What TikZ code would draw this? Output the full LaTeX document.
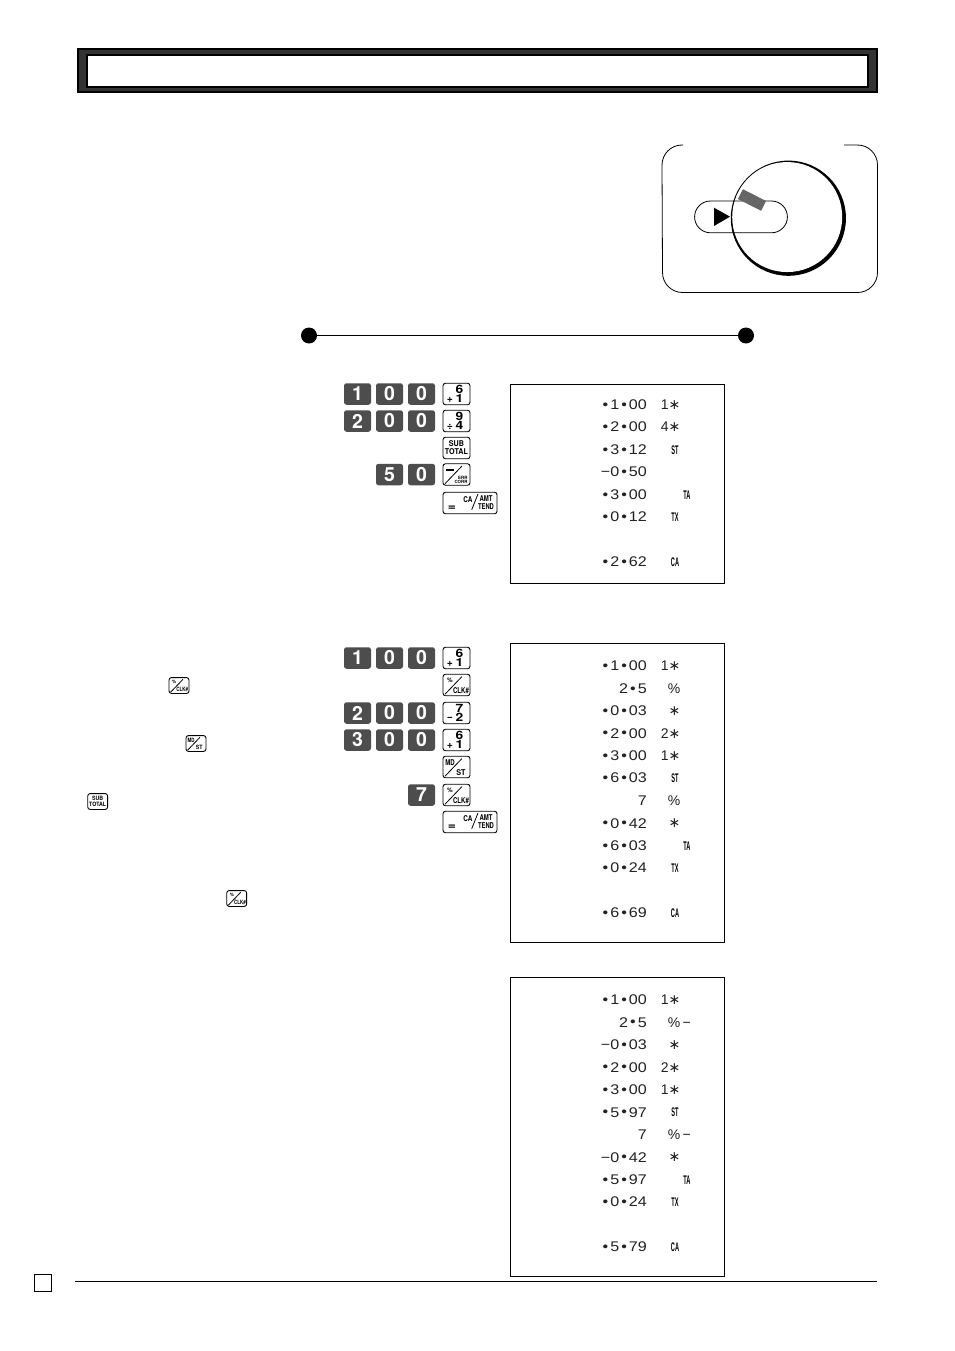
\documentclass[tikz,border=0pt]{standalone}
\usepackage{fontspec}
\usepackage{graphicx}
\usetikzlibrary{calc}
\newfontfamily\keyfont{TeX Gyre Heros}[Scale=1.0]
\newfontfamily\rcptfont{Liberation Sans}
\newfontfamily\symfont{DejaVu Sans}
\definecolor{keydark}{HTML}{4D4D4D}
\definecolor{framedark}{HTML}{333333}
\definecolor{ptrgray}{HTML}{666666}
\definecolor{rcptink}{HTML}{222222}
\newcommand{\rcptdot}{\makebox[8.4pt]{\raisebox{.4pt}{•}}}
\newcommand{\rcptstar}{{\symfont ∗}}
\tikzset{
	darkkey/.style={fill=keydark,rounded corners=2.5pt,minimum width=27pt,minimum height=21.5pt,inner sep=0pt,text=white,font=\keyfont\bfseries\fontsize{19.5}{19.5}\selectfont},
	lightkey/.style={draw=black,line width=.9pt,fill=white,rounded corners=2.5pt,inner sep=0pt},
	keytxt/.style={inner sep=0pt,font=\keyfont\bfseries\fontsize{8}{8}\selectfont},
	bigtxt/.style={inner sep=0pt,font=\keyfont\bfseries\fontsize{11.5}{11.5}\selectfont},
	keyline/.style={line width=.8pt}
}
% key with a digit over a digit
\newcommand{\numkey}[6]{
\node (#1) at (#2,#3) [lightkey,minimum width=27pt,minimum height=21.5pt] {};
\node (#1s) at ($(#1)+(-6.5,5.5)$) [keytxt] {\scalebox{1.3}{#4}};
\node (#1t) at ($(#1)+(3,-5)$) [bigtxt] {\scalebox{1.2}[1]{#5}};
\node (#1b) at ($(#1)+(3,4.6)$) [bigtxt] {\scalebox{1.2}[1]{#6}};
}
% key cut by a slash, [size]{name}{x}{y}{upper}{lower}
\newcommand{\slashkey}[6][1]{
\node (#2) at (#3,#4) [lightkey,minimum width=#1*27pt,minimum height=#1*21.5pt] {};
\draw[keyline] ($(#2)+#1*(-11.3,9)$) -- ($(#2)+#1*(5.3,-8.3)$);
\node (#2u) at ($(#2)+#1*(-6.5,-4.3)$) [keytxt] {\scalebox{#1}{#5}};
\node (#2l) at ($(#2)+#1*(4.5,5.6)$) [keytxt] {\scalebox{#1}{#6}};
}
\newcommand{\subkey}[4][1]{
\node (#2) at (#3,#4) [lightkey,minimum width=#1*27pt,minimum height=#1*21.5pt] {};
\node (#2a) at ($(#2)+#1*(0,-4)$) [keytxt] {\scalebox{#1}{\scalebox{.9}[1]{SUB}}};
\node (#2b) at ($(#2)+#1*(0,3.6)$) [keytxt] {\scalebox{#1}{\scalebox{.9}[1]{TOTAL}}};
}
\newcommand{\widekey}[3]{
\node (#1) at (#2,#3) [lightkey,minimum width=54pt,minimum height=21.5pt] {};
\draw[keyline] ($(#1)+(1.7,6.7)$) -- ($(#1)+(8,-9)$);
\node (#1e) at ($(#1)+(-18,5)$) [bigtxt] {\scalebox{1.2}[1]{=}};
\node (#1c) at ($(#1)+(-2,-3.5)$) [keytxt] {\scalebox{.8}[1]{CA}};
\node (#1a) at ($(#1)+(16,-4.5)$) [keytxt] {\scalebox{.75}[1]{AMT}};
\node (#1t) at ($(#1)+(16,3.5)$) [keytxt] {\scalebox{.73}[1]{TEND}};
}
\begin{document}
\begin{tikzpicture}[x=1pt,y=-1pt,
	rcptbox/.style={draw=black,line width=1pt,fill=white,inner sep=0pt},
	amt/.style={anchor=east,inner sep=0pt,text=rcptink,font=\rcptfont\fontsize{14}{14}\selectfont},
	mk/.style={anchor=east,inner sep=0pt,text=rcptink,font=\rcptfont\fontsize{14}{14}\selectfont},
	tg/.style={inner sep=0pt,font=\rcptfont\bfseries\fontsize{12.5}{12.5}\selectfont},
	tdot/.style={circle,fill=black,minimum size=16pt,inner sep=0pt}]
\useasboundingbox (0,0) rectangle (954,1351);

% title frame
\node (titleout) at (477.5,70.5) [draw=black,line width=1.5pt,fill=framedark,minimum width=799pt,minimum height=43pt,inner sep=0pt] {};
\node (titlein) at (477.5,71.5) [draw=black,line width=2pt,fill=white,minimum width=781pt,minimum height=32pt,inner sep=0pt] {};

% mode switch
\draw[line width=.8pt] (683,145) -- (682,145) arc (270:180:20) -- (662.5,272.5) arc (180:90:20) -- (857.5,292.5) arc (90:0:20) -- (877.5,165) arc (0:-90:20) -- (844,145);
\fill[black] (788.35,218.2) circle (57.6);
\fill[white] (787.2,217.05) circle (55);
\draw[line width=.8pt] (710.5,201) arc (270:90:15.9) -- (771.5,232.8) arc (90:-90:15.9) -- cycle;
\fill[black] (714,207.7) -- (730,216.7) -- (714,226) -- cycle;
\node (ptr) at (752,200) [fill=ptrgray,rotate=-27,minimum width=26pt,minimum height=11pt,inner sep=0pt] {};

% time line
\node (tstart) at (309,335.5) [tdot] {};
\node (tend) at (746,335.5) [tdot] {};
\draw[line width=1pt] (tstart) -- (tend);

% dark keys
\foreach \n/\x/\y/\d in {a1/357.5/394/1,a2/389.5/394/0,a3/421.5/394/0,b1/357.5/421/2,b2/389.5/421/0,b3/421.5/421/0,c1/389.5/474.5/5,c2/421.5/474.5/0,
	d1/357.5/658/1,d2/389.5/658/0,d3/421.5/658/0,e1/357.5/713/2,e2/389.5/713/0,e3/421.5/713/0,f1/357.5/740/3,f2/389.5/740/0,f3/421.5/740/0,g1/421.5/795/7} {
\node (k\n) at (\x,\y) [darkkey] {\d};
}

% first block of function keys
\numkey{pa}{456.5}{394}{+}{6}{1}
\numkey{pb}{456.5}{421}{÷}{9}{4}
\subkey{sa}{456.5}{448}
\slashkey{ea}{456.5}{474.5}{\rule{8pt}{1.5pt}}{\scalebox{.55}{\shortstack[r]{ERR\\[-1pt]CORR}}}
\widekey{wa}{470}{503}

% second block of function keys
\numkey{pc}{456.5}{658}{+}{6}{1}
\slashkey{ca}{456.5}{685}{\scalebox{.8}{\%}}{\scalebox{.76}[1]{CLK\#}}
\numkey{pd}{456.5}{713}{−}{7}{2}
\numkey{pe}{456.5}{740}{+}{6}{1}
\slashkey{ma}{456.5}{767}{\scalebox{.75}[1]{MD}}{\scalebox{.9}[1]{ST}}
\slashkey{cb}{456.5}{795}{\scalebox{.8}{\%}}{\scalebox{.76}[1]{CLK\#}}
\widekey{wb}{470}{822}

% small keys in the left column
\slashkey[.74]{cc}{179}{685.5}{\scalebox{.8}{\%}}{\scalebox{.76}[1]{CLK\#}}
\slashkey[.74]{mb}{196}{743.5}{\scalebox{.75}[1]{MD}}{\scalebox{.9}[1]{ST}}
\subkey[.74]{sb}{97.7}{801.5}
\slashkey[.74]{cd}{236.7}{898.5}{\scalebox{.8}{\%}}{\scalebox{.76}[1]{CLK\#}}

% receipts
\node (ra) at (617.5,484) [rcptbox,minimum width=214pt,minimum height=199pt] {};
\node (rb) at (617.5,793) [rcptbox,minimum width=214pt,minimum height=299pt] {};
\node (rc) at (617.5,1127) [rcptbox,minimum width=214pt,minimum height=298.5pt] {};

\foreach \y/\v [count=\i] in {405/\rcptdot 1\rcptdot 00,427/\rcptdot 2\rcptdot 00,450/\rcptdot 3\rcptdot 12,472/−0\rcptdot 50,495/\rcptdot 3\rcptdot 00,517/\rcptdot 0\rcptdot 12,562/\rcptdot 2\rcptdot 62,
	666/\rcptdot 1\rcptdot 00,688.6/2\rcptdot 5,711/\rcptdot 0\rcptdot 03,733.5/\rcptdot 2\rcptdot 00,756/\rcptdot 3\rcptdot 00,778/\rcptdot 6\rcptdot 03,801/7,823.5/\rcptdot 0\rcptdot 42,846/\rcptdot 6\rcptdot 03,868/\rcptdot 0\rcptdot 24,913/\rcptdot 6\rcptdot 69,
	1000/\rcptdot 1\rcptdot 00,1022.5/2\rcptdot 5,1045/−0\rcptdot 03,1067.5/\rcptdot 2\rcptdot 00,1090/\rcptdot 3\rcptdot 00,1112.5/\rcptdot 5\rcptdot 97,1135/7,1157.5/−0\rcptdot 42,1180/\rcptdot 5\rcptdot 97,1202/\rcptdot 0\rcptdot 24,1247/\rcptdot 5\rcptdot 79} {
\node (v\i) at (647,\y) [amt] {\scalebox{1.15}[1]{\v}};
}

\foreach \y/\v [count=\i] in {405/1\rcptstar,427/4\rcptstar,
	666/1\rcptstar,688.6/\%,711/\rcptstar,733.5/2\rcptstar,756/1\rcptstar,801/\%,823.5/\rcptstar,
	1000/1\rcptstar,1022.5/\%\rlap{\,−},1045/\rcptstar,1067.5/2\rcptstar,1090/1\rcptstar,1135/\%\rlap{\,−},1157.5/\rcptstar} {
\node (m\i) at (680.5,\y) [mk] {\v};
}

\foreach \x/\y/\v [count=\i] in {675/450/ST,687/495/TA,675/517/TX,675/562/CA,
	675/778/ST,687/846/TA,675/868/TX,675/913/CA,
	675/1112.5/ST,687/1180/TA,675/1202/TX,675/1247/CA} {
\node (t\i) at (\x,\y) [tg] {\scalebox{.45}[1]{\v}};
}

% page foot
\node (pageno) at (43,1283) [draw=black,line width=1.3pt,minimum size=17pt,inner sep=0pt] {};
\coordinate (footl) at (75,1281.5);
\coordinate (footr) at (877,1281.5);
\draw[line width=1.1pt] (footl) -- (footr);
\end{tikzpicture}
\end{document}
